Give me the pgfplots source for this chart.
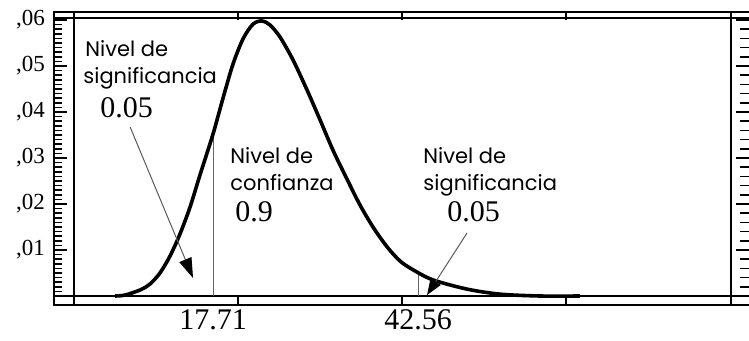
\documentclass[border=0pt]{standalone}
\usepackage{pgfplots}
\pgfplotsset{compat=1.18}
\usepackage{fontspec}
\setmainfont{Liberation Serif}
\newfontfamily\gothic{Poppins}
\usetikzlibrary{arrows.meta}

\pgfplotsset{
  base/.style={
    at={(27bp,18bp)}, anchor=south west,
    width=349bp, height=146.5bp, scale only axis,
    xmin=-1.564, xmax=83.04, ymin=-0.001957, ymax=0.06174,
    scaled y ticks=false, scaled x ticks=false,
    axis line style={line width=1bp, black},
    every tick/.style={line width=0.8bp, black},
  }
}

\begin{document}
\begin{tikzpicture}
% main axis: bottom/top ruler, curve, annotations
\begin{axis}[base,
  xtick={0.86,20.74,40.62,60.5,80.5}, minor x tick num=3,
  xticklabels={},
  ytick=\empty,
  major tick length=4bp, minor tick length=2bp,
  extra x ticks={17.71,42.56},
  extra x tick labels={17.71,42.56},
  extra x tick style={major tick length=0pt,
     xticklabel style={font=\fontsize{15bp}{15bp}\selectfont, yshift=1bp}},
]
% inner frame lines
\draw[line width=1bp] (axis cs:0.86,-0.002) -- (axis cs:0.86,0.062);
\draw[line width=1bp] (axis cs:80.5,-0.002) -- (axis cs:80.5,0.062);
\draw[line width=1bp] (axis cs:-2,0) -- (axis cs:84,0);
\draw[line width=1bp] (axis cs:-2,0.06043) -- (axis cs:84,0.06043);

% critical value lines
\addplot[gray!80!black, line width=0.5bp] coordinates {(17.71,0) (17.71,0.0352)};
\addplot[gray!80!black, line width=0.5bp] coordinates {(42.56,0) (42.56,0.0050)};

% density curve
\addplot[black, line width=1.8bp, smooth] coordinates {
(5.83,0) (7.04,0.0002) (8.86,0.0013) (10.07,0.0026) (11.28,0.0050)
(12.50,0.0087) (13.71,0.0135) (14.92,0.0193) (16.13,0.0263) (17.71,0.0352)
(18.92,0.0430) (20.13,0.0504) (21.35,0.0559) (22.56,0.0591) (23.65,0.0598)
(24.62,0.0589) (25.83,0.0563) (27.41,0.0513) (29.10,0.0448) (30.68,0.0383)
(32.25,0.0317) (33.95,0.0254) (35.52,0.0198) (37.10,0.0150) (38.80,0.0107)
(40.38,0.0076) (41.95,0.0057) (44.37,0.0035) (48.49,0.0015) (52.50,0.0004)
(57.35,0.0000) (62.2,0)
};

% arrows
\draw[gray!70!black, line width=0.5bp, -{Triangle[length=10bp,width=6.5bp,color=black]}]
  (axis cs:7.67,0.0367) -- (axis cs:15.29,0.0039);
\draw[gray!70!black, line width=0.5bp, -{Triangle[length=8bp,width=6bp,color=black]}]
  (axis cs:48.5,0.0137) -- (axis cs:43.65,0.0002);

% texts
\begin{scope}[every node/.style={inner sep=0pt, anchor=base west}]
\node[font=\gothic\fontsize{10.5bp}{12bp}\selectfont] at (axis cs:2.19,0.05196) {Nivel de};
\node[font=\gothic\fontsize{10.5bp}{12bp}\selectfont] at (axis cs:1.95,0.0463) {significancia};
\node[font=\fontsize{15bp}{15bp}\selectfont] at (axis cs:4.01,0.0389) {0.05};
\node[font=\gothic\fontsize{10.5bp}{12bp}\selectfont] at (axis cs:19.77,0.02891) {Nivel de};
\node[font=\gothic\fontsize{10.5bp}{12bp}\selectfont] at (axis cs:19.77,0.02304) {confianza};
\node[font=\fontsize{15bp}{15bp}\selectfont] at (axis cs:20.38,0.01609) {0.9};
\node[font=\gothic\fontsize{10.5bp}{12bp}\selectfont] at (axis cs:43.17,0.02891) {Nivel de};
\node[font=\gothic\fontsize{10.5bp}{12bp}\selectfont] at (axis cs:43.17,0.02304) {significancia};
\node[font=\fontsize{15bp}{15bp}\selectfont] at (axis cs:46.07,0.01609) {0.05};
\end{scope}
\end{axis}

% left ruler with labels
\begin{axis}[base,
  xtick=\empty,
  ytick={0,0.01,0.02,0.03,0.04,0.05,0.06},
  yticklabels={{},{,01},{,02},{,03},{,04},{,05},{,06}},
  ytick pos=left, minor y tick num=9,
  major tick length=6.5bp, minor tick length=4bp,
  yticklabel style={font=\fontsize{11.5bp}{12bp}\selectfont, xshift=-1bp},
]
\end{axis}

% right ruler
\begin{axis}[base,
  xtick=\empty,
  ytick={0,0.01,0.02,0.03,0.04,0.05,0.06},
  yticklabels={},
  ytick pos=right, minor y tick num=4,
  major tick length=8bp, minor tick length=6bp,
]
\end{axis}

\pgfresetboundingbox
\path[use as bounding box] (0,0) rectangle (374.5bp,170.5bp);
\end{tikzpicture}
\end{document}
